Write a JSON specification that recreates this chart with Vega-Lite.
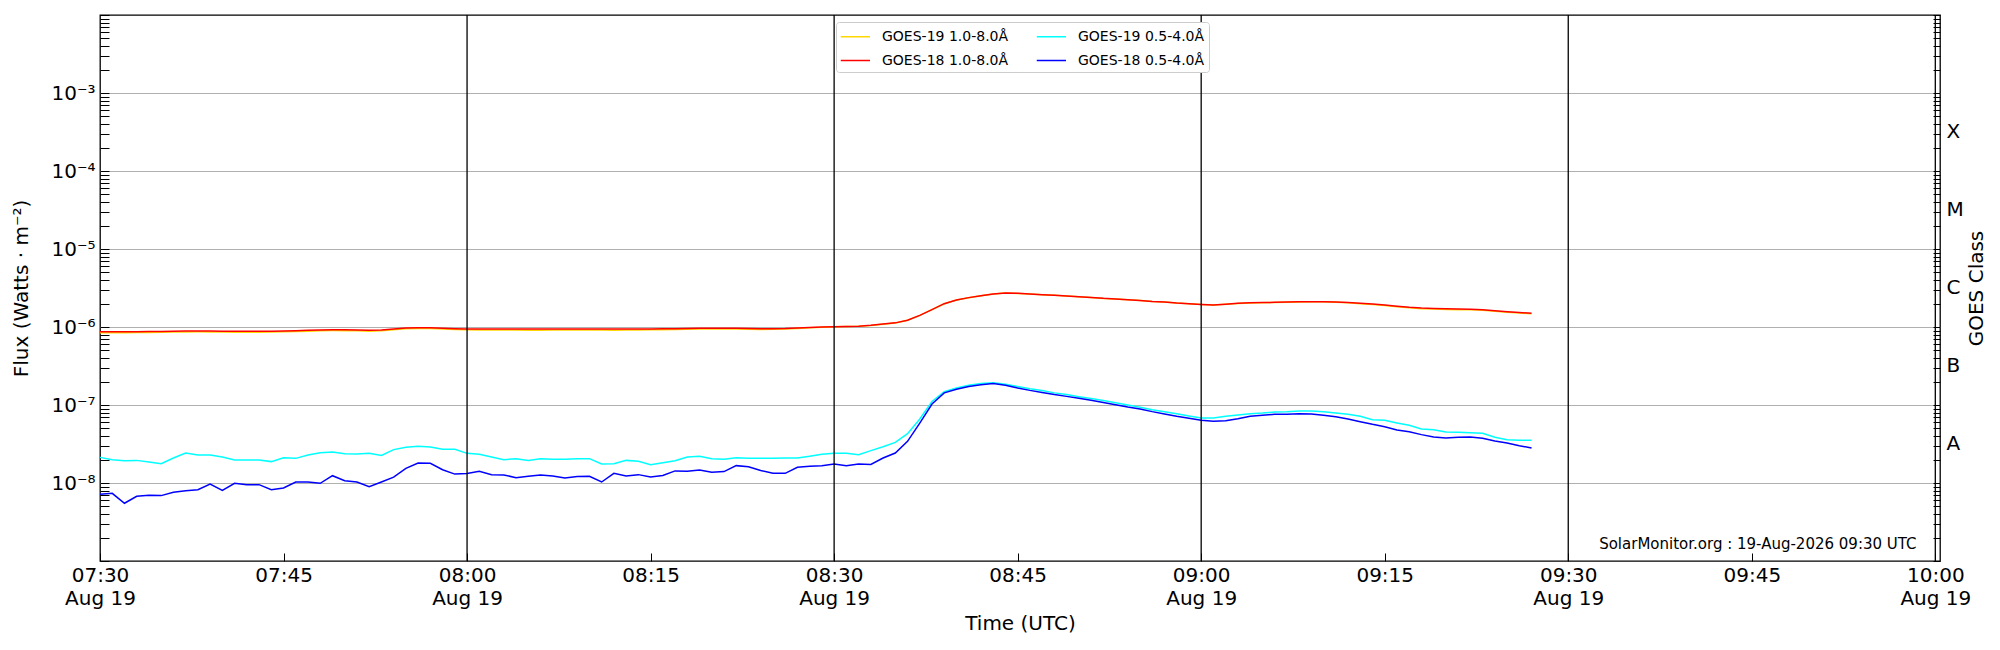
{
  "$schema": "https://vega.github.io/schema/vega-lite/v6.json",
  "width": 1840,
  "height": 546,
  "autosize": "none",
  "padding": {"left": 100, "top": 15, "right": 60, "bottom": 89},
  "background": "#ffffff",
  "datasets": {
    "goes": [
      {"t": "2026-08-19T07:30:00Z", "g19l": 8.45e-7, "g18l": 8.71e-7, "g19s": 2.13e-8, "g18s": 7.2e-9},
      {"t": "2026-08-19T07:31:00Z", "g19l": 8.45e-7, "g18l": 8.71e-7, "g19s": 1.99e-8, "g18s": 7.37e-9},
      {"t": "2026-08-19T07:32:00Z", "g19l": 8.46e-7, "g18l": 8.70e-7, "g19s": 1.93e-8, "g18s": 5.5e-9},
      {"t": "2026-08-19T07:33:00Z", "g19l": 8.48e-7, "g18l": 8.72e-7, "g19s": 1.95e-8, "g18s": 6.75e-9},
      {"t": "2026-08-19T07:34:00Z", "g19l": 8.52e-7, "g18l": 8.75e-7, "g19s": 1.86e-8, "g18s": 6.95e-9},
      {"t": "2026-08-19T07:35:00Z", "g19l": 8.55e-7, "g18l": 8.78e-7, "g19s": 1.77e-8, "g18s": 6.89e-9},
      {"t": "2026-08-19T07:36:00Z", "g19l": 8.6e-7, "g18l": 8.82e-7, "g19s": 2.09e-8, "g18s": 7.59e-9},
      {"t": "2026-08-19T07:37:00Z", "g19l": 8.65e-7, "g18l": 8.88e-7, "g19s": 2.42e-8, "g18s": 7.98e-9},
      {"t": "2026-08-19T07:38:00Z", "g19l": 8.66e-7, "g18l": 8.90e-7, "g19s": 2.29e-8, "g18s": 8.22e-9},
      {"t": "2026-08-19T07:39:00Z", "g19l": 8.63e-7, "g18l": 8.86e-7, "g19s": 2.29e-8, "g18s": 9.7e-9},
      {"t": "2026-08-19T07:40:00Z", "g19l": 8.6e-7, "g18l": 8.82e-7, "g19s": 2.15e-8, "g18s": 8.05e-9},
      {"t": "2026-08-19T07:41:00Z", "g19l": 8.58e-7, "g18l": 8.80e-7, "g19s": 1.97e-8, "g18s": 9.9e-9},
      {"t": "2026-08-19T07:42:00Z", "g19l": 8.58e-7, "g18l": 8.80e-7, "g19s": 1.97e-8, "g18s": 9.53e-9},
      {"t": "2026-08-19T07:43:00Z", "g19l": 8.58e-7, "g18l": 8.80e-7, "g19s": 1.97e-8, "g18s": 9.53e-9},
      {"t": "2026-08-19T07:44:00Z", "g19l": 8.6e-7, "g18l": 8.82e-7, "g19s": 1.88e-8, "g18s": 8.22e-9},
      {"t": "2026-08-19T07:45:00Z", "g19l": 8.66e-7, "g18l": 8.90e-7, "g19s": 2.11e-8, "g18s": 8.63e-9},
      {"t": "2026-08-19T07:46:00Z", "g19l": 8.74e-7, "g18l": 8.98e-7, "g19s": 2.07e-8, "g18s": 1.03e-8},
      {"t": "2026-08-19T07:47:00Z", "g19l": 8.85e-7, "g18l": 9.08e-7, "g19s": 2.29e-8, "g18s": 1.03e-8},
      {"t": "2026-08-19T07:48:00Z", "g19l": 8.95e-7, "g18l": 9.18e-7, "g19s": 2.45e-8, "g18s": 9.9e-9},
      {"t": "2026-08-19T07:49:00Z", "g19l": 9.0e-7, "g18l": 9.24e-7, "g19s": 2.50e-8, "g18s": 1.24e-8},
      {"t": "2026-08-19T07:50:00Z", "g19l": 8.98e-7, "g18l": 9.22e-7, "g19s": 2.38e-8, "g18s": 1.07e-8},
      {"t": "2026-08-19T07:51:00Z", "g19l": 8.92e-7, "g18l": 9.15e-7, "g19s": 2.35e-8, "g18s": 1.03e-8},
      {"t": "2026-08-19T07:52:00Z", "g19l": 8.85e-7, "g18l": 9.08e-7, "g19s": 2.40e-8, "g18s": 8.97e-9},
      {"t": "2026-08-19T07:53:00Z", "g19l": 8.92e-7, "g18l": 9.15e-7, "g19s": 2.26e-8, "g18s": 1.03e-8},
      {"t": "2026-08-19T07:54:00Z", "g19l": 9.2e-7, "g18l": 9.43e-7, "g19s": 2.68e-8, "g18s": 1.19e-8},
      {"t": "2026-08-19T07:55:00Z", "g19l": 9.5e-7, "g18l": 9.71e-7, "g19s": 2.87e-8, "g18s": 1.54e-8},
      {"t": "2026-08-19T07:56:00Z", "g19l": 9.6e-7, "g18l": 9.80e-7, "g19s": 2.95e-8, "g18s": 1.80e-8},
      {"t": "2026-08-19T07:57:00Z", "g19l": 9.55e-7, "g18l": 9.76e-7, "g19s": 2.90e-8, "g18s": 1.79e-8},
      {"t": "2026-08-19T07:58:00Z", "g19l": 9.4e-7, "g18l": 9.62e-7, "g19s": 2.70e-8, "g18s": 1.48e-8},
      {"t": "2026-08-19T07:59:00Z", "g19l": 9.3e-7, "g18l": 9.52e-7, "g19s": 2.70e-8, "g18s": 1.30e-8},
      {"t": "2026-08-19T08:00:00Z", "g19l": 9.2e-7, "g18l": 9.43e-7, "g19s": 2.40e-8, "g18s": 1.32e-8},
      {"t": "2026-08-19T08:01:00Z", "g19l": 9.18e-7, "g18l": 9.43e-7, "g19s": 2.33e-8, "g18s": 1.41e-8},
      {"t": "2026-08-19T08:02:00Z", "g19l": 9.15e-7, "g18l": 9.45e-7, "g19s": 2.15e-8, "g18s": 1.28e-8},
      {"t": "2026-08-19T08:03:00Z", "g19l": 9.15e-7, "g18l": 9.45e-7, "g19s": 1.99e-8, "g18s": 1.27e-8},
      {"t": "2026-08-19T08:04:00Z", "g19l": 9.13e-7, "g18l": 9.43e-7, "g19s": 2.05e-8, "g18s": 1.17e-8},
      {"t": "2026-08-19T08:05:00Z", "g19l": 9.1e-7, "g18l": 9.40e-7, "g19s": 1.95e-8, "g18s": 1.22e-8},
      {"t": "2026-08-19T08:06:00Z", "g19l": 9.1e-7, "g18l": 9.40e-7, "g19s": 2.05e-8, "g18s": 1.27e-8},
      {"t": "2026-08-19T08:07:00Z", "g19l": 9.12e-7, "g18l": 9.42e-7, "g19s": 2.01e-8, "g18s": 1.23e-8},
      {"t": "2026-08-19T08:08:00Z", "g19l": 9.13e-7, "g18l": 9.43e-7, "g19s": 2.01e-8, "g18s": 1.16e-8},
      {"t": "2026-08-19T08:09:00Z", "g19l": 9.13e-7, "g18l": 9.43e-7, "g19s": 2.05e-8, "g18s": 1.21e-8},
      {"t": "2026-08-19T08:10:00Z", "g19l": 9.13e-7, "g18l": 9.43e-7, "g19s": 2.05e-8, "g18s": 1.22e-8},
      {"t": "2026-08-19T08:11:00Z", "g19l": 9.12e-7, "g18l": 9.42e-7, "g19s": 1.75e-8, "g18s": 1.03e-8},
      {"t": "2026-08-19T08:12:00Z", "g19l": 9.1e-7, "g18l": 9.40e-7, "g19s": 1.77e-8, "g18s": 1.33e-8},
      {"t": "2026-08-19T08:13:00Z", "g19l": 9.12e-7, "g18l": 9.40e-7, "g19s": 1.95e-8, "g18s": 1.23e-8},
      {"t": "2026-08-19T08:14:00Z", "g19l": 9.15e-7, "g18l": 9.42e-7, "g19s": 1.90e-8, "g18s": 1.28e-8},
      {"t": "2026-08-19T08:15:00Z", "g19l": 9.2e-7, "g18l": 9.45e-7, "g19s": 1.72e-8, "g18s": 1.19e-8},
      {"t": "2026-08-19T08:16:00Z", "g19l": 9.25e-7, "g18l": 9.48e-7, "g19s": 1.82e-8, "g18s": 1.25e-8},
      {"t": "2026-08-19T08:17:00Z", "g19l": 9.3e-7, "g18l": 9.52e-7, "g19s": 1.93e-8, "g18s": 1.43e-8},
      {"t": "2026-08-19T08:18:00Z", "g19l": 9.35e-7, "g18l": 9.57e-7, "g19s": 2.15e-8, "g18s": 1.41e-8},
      {"t": "2026-08-19T08:19:00Z", "g19l": 9.4e-7, "g18l": 9.62e-7, "g19s": 2.20e-8, "g18s": 1.47e-8},
      {"t": "2026-08-19T08:20:00Z", "g19l": 9.42e-7, "g18l": 9.62e-7, "g19s": 2.05e-8, "g18s": 1.37e-8},
      {"t": "2026-08-19T08:21:00Z", "g19l": 9.42e-7, "g18l": 9.62e-7, "g19s": 2.01e-8, "g18s": 1.40e-8},
      {"t": "2026-08-19T08:22:00Z", "g19l": 9.4e-7, "g18l": 9.62e-7, "g19s": 2.11e-8, "g18s": 1.67e-8},
      {"t": "2026-08-19T08:23:00Z", "g19l": 9.36e-7, "g18l": 9.57e-7, "g19s": 2.07e-8, "g18s": 1.62e-8},
      {"t": "2026-08-19T08:24:00Z", "g19l": 9.32e-7, "g18l": 9.52e-7, "g19s": 2.07e-8, "g18s": 1.45e-8},
      {"t": "2026-08-19T08:25:00Z", "g19l": 9.33e-7, "g18l": 9.52e-7, "g19s": 2.07e-8, "g18s": 1.33e-8},
      {"t": "2026-08-19T08:26:00Z", "g19l": 9.4e-7, "g18l": 9.57e-7, "g19s": 2.09e-8, "g18s": 1.33e-8},
      {"t": "2026-08-19T08:27:00Z", "g19l": 9.58e-7, "g18l": 9.71e-7, "g19s": 2.09e-8, "g18s": 1.59e-8},
      {"t": "2026-08-19T08:28:00Z", "g19l": 9.78e-7, "g18l": 9.85e-7, "g19s": 2.20e-8, "g18s": 1.64e-8},
      {"t": "2026-08-19T08:29:00Z", "g19l": 9.96e-7, "g18l": 1.00e-6, "g19s": 2.33e-8, "g18s": 1.67e-8},
      {"t": "2026-08-19T08:30:00Z", "g19l": 1.008e-6, "g18l": 1.01e-6, "g19s": 2.40e-8, "g18s": 1.75e-8},
      {"t": "2026-08-19T08:31:00Z", "g19l": 1.013e-6, "g18l": 1.015e-6, "g19s": 2.40e-8, "g18s": 1.67e-8},
      {"t": "2026-08-19T08:32:00Z", "g19l": 1.023e-6, "g18l": 1.025e-6, "g19s": 2.31e-8, "g18s": 1.75e-8},
      {"t": "2026-08-19T08:33:00Z", "g19l": 1.048e-6, "g18l": 1.05e-6, "g19s": 2.60e-8, "g18s": 1.73e-8},
      {"t": "2026-08-19T08:34:00Z", "g19l": 1.088e-6, "g18l": 1.09e-6, "g19s": 2.92e-8, "g18s": 2.09e-8},
      {"t": "2026-08-19T08:35:00Z", "g19l": 1.128e-6, "g18l": 1.13e-6, "g19s": 3.32e-8, "g18s": 2.42e-8},
      {"t": "2026-08-19T08:36:00Z", "g19l": 1.218e-6, "g18l": 1.22e-6, "g19s": 4.29e-8, "g18s": 3.42e-8},
      {"t": "2026-08-19T08:37:00Z", "g19l": 1.408e-6, "g18l": 1.41e-6, "g19s": 6.62e-8, "g18s": 5.87e-8},
      {"t": "2026-08-19T08:38:00Z", "g19l": 1.668e-6, "g18l": 1.67e-6, "g19s": 1.11e-7, "g18s": 1.03e-7},
      {"t": "2026-08-19T08:39:00Z", "g19l": 1.985e-6, "g18l": 1.99e-6, "g19s": 1.48e-7, "g18s": 1.43e-7},
      {"t": "2026-08-19T08:40:00Z", "g19l": 2.215e-6, "g18l": 2.22e-6, "g19s": 1.65e-7, "g18s": 1.59e-7},
      {"t": "2026-08-19T08:41:00Z", "g19l": 2.375e-6, "g18l": 2.38e-6, "g19s": 1.79e-7, "g18s": 1.73e-7},
      {"t": "2026-08-19T08:42:00Z", "g19l": 2.515e-6, "g18l": 2.52e-6, "g19s": 1.88e-7, "g18s": 1.82e-7},
      {"t": "2026-08-19T08:43:00Z", "g19l": 2.645e-6, "g18l": 2.65e-6, "g19s": 1.93e-7, "g18s": 1.88e-7},
      {"t": "2026-08-19T08:44:00Z", "g19l": 2.725e-6, "g18l": 2.73e-6, "g19s": 1.84e-7, "g18s": 1.79e-7},
      {"t": "2026-08-19T08:45:00Z", "g19l": 2.695e-6, "g18l": 2.70e-6, "g19s": 1.73e-7, "g18s": 1.65e-7},
      {"t": "2026-08-19T08:46:00Z", "g19l": 2.645e-6, "g18l": 2.65e-6, "g19s": 1.62e-7, "g18s": 1.54e-7},
      {"t": "2026-08-19T08:47:00Z", "g19l": 2.595e-6, "g18l": 2.60e-6, "g19s": 1.53e-7, "g18s": 1.45e-7},
      {"t": "2026-08-19T08:48:00Z", "g19l": 2.545e-6, "g18l": 2.55e-6, "g19s": 1.43e-7, "g18s": 1.36e-7},
      {"t": "2026-08-19T08:49:00Z", "g19l": 2.495e-6, "g18l": 2.50e-6, "g19s": 1.36e-7, "g18s": 1.29e-7},
      {"t": "2026-08-19T08:50:00Z", "g19l": 2.445e-6, "g18l": 2.45e-6, "g19s": 1.28e-7, "g18s": 1.22e-7},
      {"t": "2026-08-19T08:51:00Z", "g19l": 2.385e-6, "g18l": 2.39e-6, "g19s": 1.21e-7, "g18s": 1.15e-7},
      {"t": "2026-08-19T08:52:00Z", "g19l": 2.325e-6, "g18l": 2.33e-6, "g19s": 1.14e-7, "g18s": 1.08e-7},
      {"t": "2026-08-19T08:53:00Z", "g19l": 2.285e-6, "g18l": 2.29e-6, "g19s": 1.07e-7, "g18s": 1.01e-7},
      {"t": "2026-08-19T08:54:00Z", "g19l": 2.235e-6, "g18l": 2.24e-6, "g19s": 1.00e-7, "g18s": 9.42e-8},
      {"t": "2026-08-19T08:55:00Z", "g19l": 2.185e-6, "g18l": 2.19e-6, "g19s": 9.33e-8, "g18s": 8.89e-8},
      {"t": "2026-08-19T08:56:00Z", "g19l": 2.125e-6, "g18l": 2.13e-6, "g19s": 8.71e-8, "g18s": 8.22e-8},
      {"t": "2026-08-19T08:57:00Z", "g19l": 2.085e-6, "g18l": 2.09e-6, "g19s": 8.22e-8, "g18s": 7.67e-8},
      {"t": "2026-08-19T08:58:00Z", "g19l": 2.025e-6, "g18l": 2.03e-6, "g19s": 7.74e-8, "g18s": 7.16e-8},
      {"t": "2026-08-19T08:59:00Z", "g19l": 1.985e-6, "g18l": 1.99e-6, "g19s": 7.23e-8, "g18s": 6.75e-8},
      {"t": "2026-08-19T09:00:00Z", "g19l": 1.945e-6, "g18l": 1.95e-6, "g19s": 6.81e-8, "g18s": 6.36e-8},
      {"t": "2026-08-19T09:01:00Z", "g19l": 1.915e-6, "g18l": 1.92e-6, "g19s": 6.81e-8, "g18s": 6.18e-8},
      {"t": "2026-08-19T09:02:00Z", "g19l": 1.955e-6, "g18l": 1.96e-6, "g19s": 7.16e-8, "g18s": 6.30e-8},
      {"t": "2026-08-19T09:03:00Z", "g19l": 2.0e-6, "g18l": 2.01e-6, "g19s": 7.45e-8, "g18s": 6.68e-8},
      {"t": "2026-08-19T09:04:00Z", "g19l": 2.03e-6, "g18l": 2.04e-6, "g19s": 7.74e-8, "g18s": 7.16e-8},
      {"t": "2026-08-19T09:05:00Z", "g19l": 2.05e-6, "g18l": 2.06e-6, "g19s": 7.89e-8, "g18s": 7.37e-8},
      {"t": "2026-08-19T09:06:00Z", "g19l": 2.06e-6, "g18l": 2.07e-6, "g19s": 8.13e-8, "g18s": 7.59e-8},
      {"t": "2026-08-19T09:07:00Z", "g19l": 2.08e-6, "g18l": 2.09e-6, "g19s": 8.22e-8, "g18s": 7.59e-8},
      {"t": "2026-08-19T09:08:00Z", "g19l": 2.09e-6, "g18l": 2.10e-6, "g19s": 8.38e-8, "g18s": 7.74e-8},
      {"t": "2026-08-19T09:09:00Z", "g19l": 2.1e-6, "g18l": 2.11e-6, "g19s": 8.38e-8, "g18s": 7.67e-8},
      {"t": "2026-08-19T09:10:00Z", "g19l": 2.1e-6, "g18l": 2.11e-6, "g19s": 8.22e-8, "g18s": 7.37e-8},
      {"t": "2026-08-19T09:11:00Z", "g19l": 2.08e-6, "g18l": 2.09e-6, "g19s": 7.89e-8, "g18s": 7.08e-8},
      {"t": "2026-08-19T09:12:00Z", "g19l": 2.04e-6, "g18l": 2.06e-6, "g19s": 7.59e-8, "g18s": 6.62e-8},
      {"t": "2026-08-19T09:13:00Z", "g19l": 1.99e-6, "g18l": 2.02e-6, "g19s": 7.16e-8, "g18s": 6.11e-8},
      {"t": "2026-08-19T09:14:00Z", "g19l": 1.94e-6, "g18l": 1.97e-6, "g19s": 6.49e-8, "g18s": 5.65e-8},
      {"t": "2026-08-19T09:15:00Z", "g19l": 1.88e-6, "g18l": 1.91e-6, "g19s": 6.36e-8, "g18s": 5.27e-8},
      {"t": "2026-08-19T09:16:00Z", "g19l": 1.82e-6, "g18l": 1.85e-6, "g19s": 5.87e-8, "g18s": 4.78e-8},
      {"t": "2026-08-19T09:17:00Z", "g19l": 1.76e-6, "g18l": 1.79e-6, "g19s": 5.49e-8, "g18s": 4.55e-8},
      {"t": "2026-08-19T09:18:00Z", "g19l": 1.72e-6, "g18l": 1.75e-6, "g19s": 4.92e-8, "g18s": 4.17e-8},
      {"t": "2026-08-19T09:19:00Z", "g19l": 1.7e-6, "g18l": 1.73e-6, "g19s": 4.83e-8, "g18s": 3.89e-8},
      {"t": "2026-08-19T09:20:00Z", "g19l": 1.68e-6, "g18l": 1.71e-6, "g19s": 4.51e-8, "g18s": 3.78e-8},
      {"t": "2026-08-19T09:21:00Z", "g19l": 1.67e-6, "g18l": 1.70e-6, "g19s": 4.46e-8, "g18s": 3.85e-8},
      {"t": "2026-08-19T09:22:00Z", "g19l": 1.66e-6, "g18l": 1.69e-6, "g19s": 4.42e-8, "g18s": 3.89e-8},
      {"t": "2026-08-19T09:23:00Z", "g19l": 1.64e-6, "g18l": 1.67e-6, "g19s": 4.33e-8, "g18s": 3.74e-8},
      {"t": "2026-08-19T09:24:00Z", "g19l": 1.59e-6, "g18l": 1.62e-6, "g19s": 3.85e-8, "g18s": 3.45e-8},
      {"t": "2026-08-19T09:25:00Z", "g19l": 1.55e-6, "g18l": 1.57e-6, "g19s": 3.59e-8, "g18s": 3.26e-8},
      {"t": "2026-08-19T09:26:00Z", "g19l": 1.51e-6, "g18l": 1.53e-6, "g19s": 3.52e-8, "g18s": 3.01e-8},
      {"t": "2026-08-19T09:27:00Z", "g19l": 1.48e-6, "g18l": 1.50e-6, "g19s": 3.52e-8, "g18s": 2.81e-8}
    ],
    "halfhours": [
      {"t": "2026-08-19T08:00:00Z"},
      {"t": "2026-08-19T08:30:00Z"},
      {"t": "2026-08-19T09:00:00Z"},
      {"t": "2026-08-19T09:30:00Z"},
      {"t": "2026-08-19T10:00:00Z"}
    ],
    "stamp": [
      {"t": "2026-08-19T09:58:28Z", "f": 1.425e-9, "label": "SolarMonitor.org : 19-Aug-2026 09:30 UTC"}
    ]
  },
  "resolve": {"axis": {"y": "independent"}},
  "layer": [
    {
      "data": {"name": "goes"},
      "transform": [{"fold": ["g19l", "g18l", "g19s", "g18s"], "as": ["series", "flux"]}],
      "mark": {"type": "line", "strokeWidth": 1.5},
      "encoding": {
        "x": {
          "field": "t",
          "type": "temporal",
          "scale": {"type": "utc", "domain": [1787124600000, 1787133623000]},
          "axis": {
            "values": [1787124600000, 1787125500000, 1787126400000, 1787127300000, 1787128200000, 1787129100000,
                       1787130000000, 1787130900000, 1787131800000, 1787132700000, 1787133600000],
            "labelExpr": "utcminutes(datum.value) % 30 == 0 ? [utcFormat(datum.value, '%H:%M'), utcFormat(datum.value, '%b %d')] : utcFormat(datum.value, '%H:%M')",
            "domain": false,
            "grid": false,
            "tickSize": -8,
            "tickColor": "#000000",
            "tickWidth": 1,
            "labelFontSize": 20,
            "labelPadding": 12,
            "labelLineHeight": 23,
            "labelFlush": false,
            "labelOverlap": false,
            "title": "Time (UTC)",
            "titleFontSize": 20,
            "titleFontWeight": "normal",
            "titlePadding": 5
          }
        },
        "y": {
          "field": "flux",
          "type": "quantitative",
          "scale": {"type": "log", "domain": [1e-9, 1e-2], "nice": false},
          "axis": {
            "values": [1e-9, 2e-9, 3e-9, 4e-9, 5e-9, 6e-9, 7e-9, 8e-9, 9e-9,
                       1e-8, 2e-8, 3e-8, 4e-8, 5e-8, 6e-8, 7e-8, 8e-8, 9e-8,
                       1e-7, 2e-7, 3e-7, 4e-7, 5e-7, 6e-7, 7e-7, 8e-7, 9e-7,
                       1e-6, 2e-6, 3e-6, 4e-6, 5e-6, 6e-6, 7e-6, 8e-6, 9e-6,
                       1e-5, 2e-5, 3e-5, 4e-5, 5e-5, 6e-5, 7e-5, 8e-5, 9e-5,
                       1e-4, 2e-4, 3e-4, 4e-4, 5e-4, 6e-4, 7e-4, 8e-4, 9e-4,
                       1e-3, 2e-3, 3e-3, 4e-3, 5e-3, 6e-3, 7e-3, 8e-3, 9e-3, 1e-2],
            "labelExpr": "abs(log(datum.value)/LN10 - round(log(datum.value)/LN10)) < 0.001 && datum.value > 5e-9 && datum.value < 5e-3 ? '10⁻' + substring('⁰¹²³⁴⁵⁶⁷⁸⁹', -round(log(datum.value)/LN10), 1 - round(log(datum.value)/LN10)) : ''",
            "domain": false,
            "grid": true,
            "gridColor": "#b0b0b0",
            "gridWidth": 1,
            "gridOpacity": {
              "condition": {"test": "abs(log(datum.value)/LN10 - round(log(datum.value)/LN10)) < 0.001 && datum.value > 5e-9 && datum.value < 5e-3", "value": 1},
              "value": 0
            },
            "tickSize": -9,
            "tickColor": "#000000",
            "tickWidth": 1,
            "labelFontSize": 20,
            "labelPadding": 14,
            "labelOverlap": false,
            "labelFlush": false,
            "labelBound": false,
            "title": "Flux (Watts · m⁻²)",
            "titleFontSize": 20,
            "titleFontWeight": "normal",
            "titlePadding": 19
          }
        },
        "color": {
          "field": "series",
          "type": "nominal",
          "scale": {
            "domain": ["g19l", "g18l", "g19s", "g18s"],
            "range": ["#FFD700", "#FF0000", "#00FFFF", "#0000FF"]
          },
          "legend": {
            "orient": "none",
            "legendX": 736,
            "legendY": 7,
            "columns": 2,
            "title": null,
            "symbolType": "M-1,0H2",
            "symbolSize": 380,
            "symbolStrokeWidth": 1.5,
            "labelFontSize": 14,
            "labelOffset": 21,
            "padding": 4,
            "rowPadding": 6,
            "columnPadding": 24,
            "fillColor": "#ffffff",
            "strokeColor": "#cccccc",
            "cornerRadius": 3,
            "labelExpr": "datum.label == 'g19l' ? 'GOES-19 1.0-8.0Å' : datum.label == 'g19s' ? 'GOES-19 0.5-4.0Å' : datum.label == 'g18l' ? 'GOES-18 1.0-8.0Å' : 'GOES-18 0.5-4.0Å'"
          }
        }
      }
    },
    {
      "data": {"name": "stamp"},
      "mark": {"type": "text", "align": "right", "baseline": "alphabetic", "fontSize": 15, "font": "DejaVu Sans", "color": "#000000"},
      "encoding": {
        "x": {"field": "t", "type": "temporal", "scale": {"type": "utc"}},
        "y": {
          "field": "f",
          "type": "quantitative",
          "scale": {"type": "log", "domain": [1e-9, 1e-2], "nice": false},
          "axis": {
            "orient": "right",
            "values": [1e-9, 2e-9, 3e-9, 4e-9, 5e-9, 6e-9, 7e-9, 8e-9, 9e-9,
                       1e-8, 2e-8, 3e-8, 4e-8, 5e-8, 6e-8, 7e-8, 8e-8, 9e-8,
                       1e-7, 2e-7, 3e-7, 4e-7, 5e-7, 6e-7, 7e-7, 8e-7, 9e-7,
                       1e-6, 2e-6, 3e-6, 4e-6, 5e-6, 6e-6, 7e-6, 8e-6, 9e-6,
                       1e-5, 2e-5, 3e-5, 4e-5, 5e-5, 6e-5, 7e-5, 8e-5, 9e-5,
                       1e-4, 2e-4, 3e-4, 4e-4, 5e-4, 6e-4, 7e-4, 8e-4, 9e-4,
                       1e-3, 2e-3, 3e-3, 4e-3, 5e-3, 6e-3, 7e-3, 8e-3, 9e-3, 1e-2,
                       3.1623e-8, 3.1623e-7, 3.1623e-6, 3.1623e-5, 3.1623e-4],
            "labelExpr": "abs(log(datum.value)/LN10 - floor(log(datum.value)/LN10) - 0.5) < 0.01 ? substring('ABCMX', floor(log(datum.value)/LN10) + 8, floor(log(datum.value)/LN10) + 9) : ''",
            "domain": false,
            "grid": false,
            "tickSize": -7,
            "tickColor": "#000000",
            "tickWidth": 1,
            "tickOpacity": {
              "condition": {"test": "abs(log(datum.value)/LN10 - floor(log(datum.value)/LN10) - 0.5) < 0.01", "value": 0},
              "value": 1
            },
            "labelFontSize": 20,
            "labelPadding": 13,
            "labelOverlap": false,
            "labelFlush": false,
            "labelBound": false,
            "title": "GOES Class",
            "titleAngle": 270,
            "titleBaseline": "top",
            "titleFontSize": 20,
            "titleFontWeight": "normal",
            "titlePadding": 3
          }
        },
        "text": {"field": "label", "type": "nominal"}
      }
    },
    {
      "data": {"name": "halfhours"},
      "mark": {"type": "rule", "color": "#000000", "strokeWidth": 1.3},
      "encoding": {
        "x": {"field": "t", "type": "temporal", "scale": {"type": "utc"}}
      }
    }
  ],
  "config": {
    "font": "DejaVu Sans",
    "view": {"stroke": "#000000", "strokeWidth": 1.3},
    "axis": {
      "labelFont": "DejaVu Sans",
      "titleFont": "DejaVu Sans",
      "labelColor": "#000000",
      "titleColor": "#000000"
    },
    "legend": {
      "labelFont": "DejaVu Sans",
      "labelColor": "#000000",
      "labelLimit": 300
    }
  }
}
